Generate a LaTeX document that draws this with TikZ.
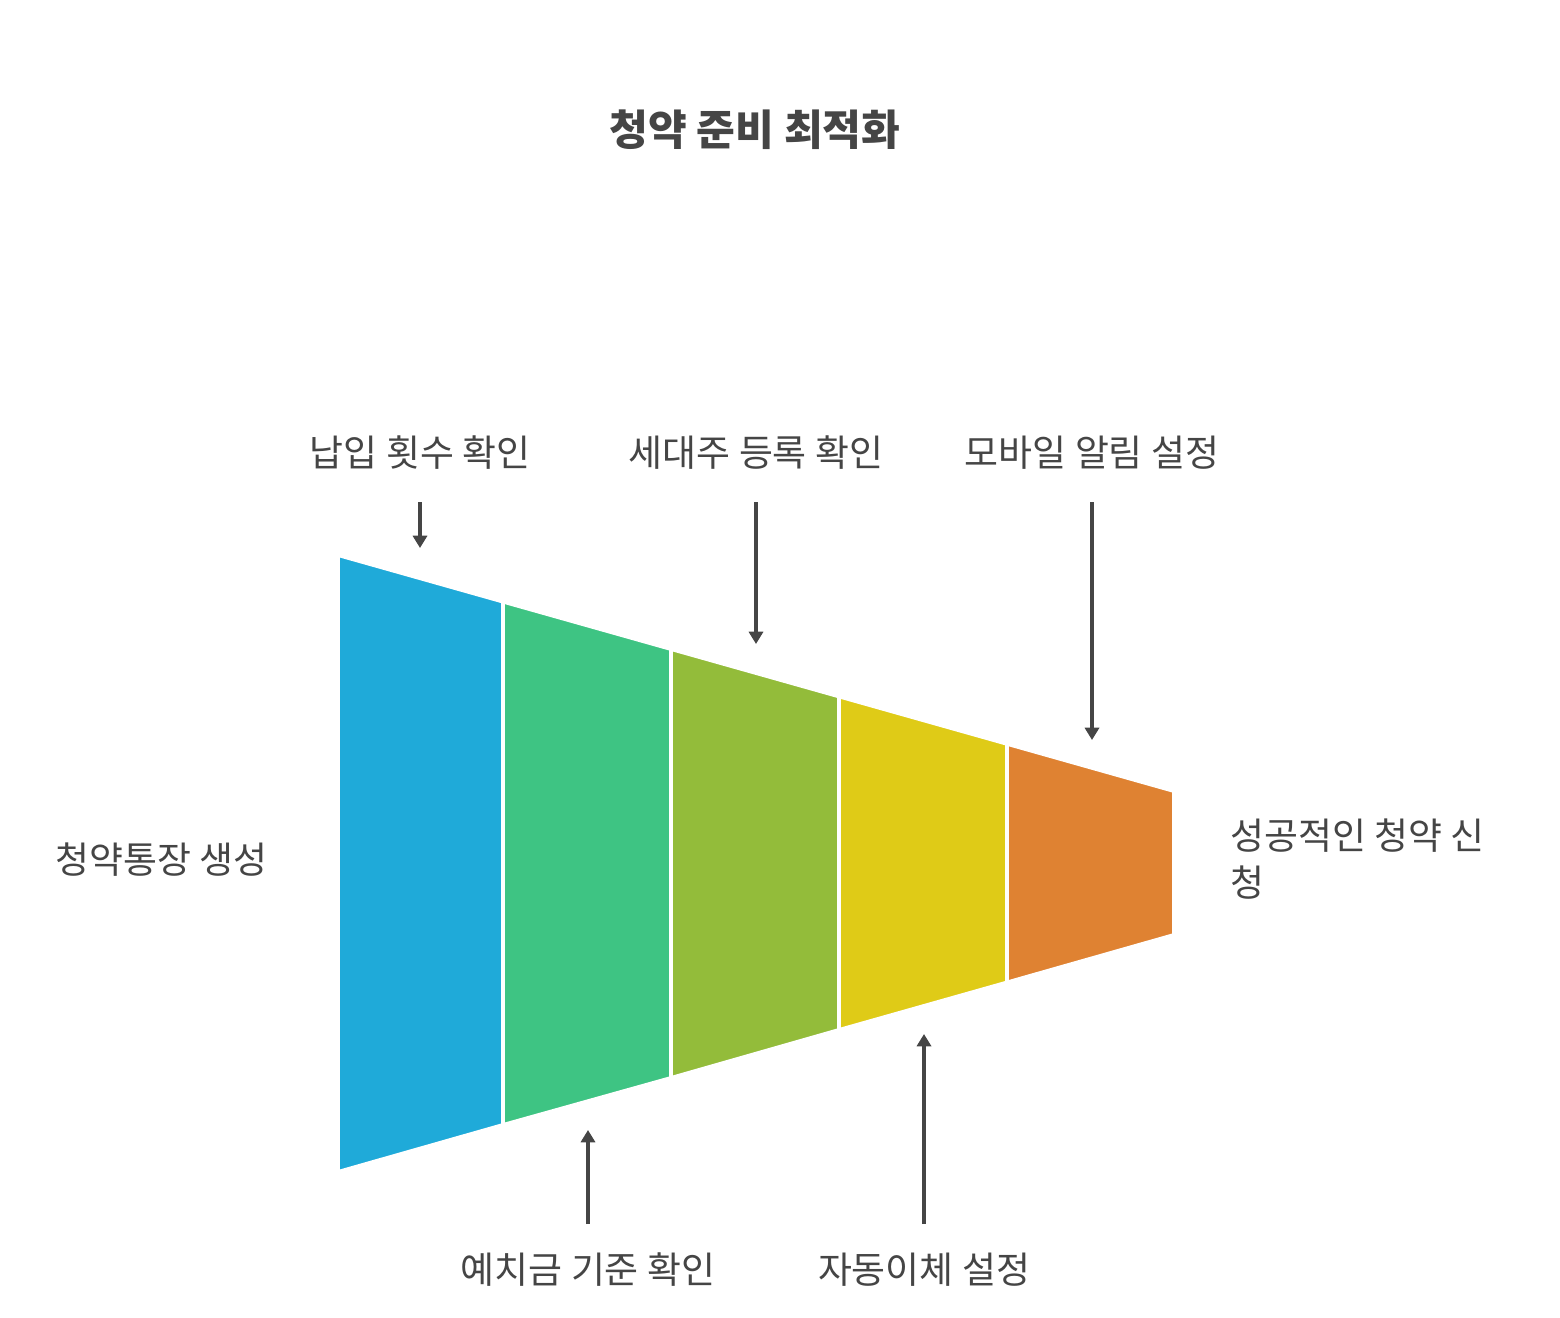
\documentclass[tikz,border=0pt]{standalone}
\usepackage{fontspec}
\setmainfont{Noto Sans CJK KR}
\usetikzlibrary{arrows.meta}
\definecolor{cA}{HTML}{1FAAD9}
\definecolor{cB}{HTML}{3EC483}
\definecolor{cC}{HTML}{93BC3A}
\definecolor{cD}{HTML}{DFCB17}
\definecolor{cE}{HTML}{DF8232}
\definecolor{ink}{HTML}{454545}
\tikzset{
 seg/.style={draw=white,line width=2.2pt,line join=miter},
 lbl/.style={text=ink,font=\fontsize{21}{27}\selectfont,inner sep=0pt},
 arr/.style={draw=ink,line width=1.8pt,-{Triangle[length=7pt,width=8pt]}}
}
\begin{document}
\begin{tikzpicture}[x=0.02cm,y=-0.02cm]
\useasboundingbox (0,0) rectangle (1560,1318);
\fill[white] (0,0) rectangle (1560,1318);
\fill[seg,fill=cA] (338,555) -- (503,601.6) -- (503,1125) -- (338,1172) -- cycle;
\fill[seg,fill=cB] (503,601.6) -- (671,649) -- (671,1078) -- (503,1125) -- cycle;
\fill[seg,fill=cC] (671,649) -- (839,696.4) -- (839,1030) -- (671,1078) -- cycle;
\fill[seg,fill=cD] (839,696.4) -- (1007,743.8) -- (1007,982.5) -- (839,1030) -- cycle;
\fill[seg,fill=cE] (1007,743.8) -- (1174,791) -- (1174,935) -- (1007,982.5) -- cycle;
\draw[white,line width=2.2pt] (503,601.6)--(503,1125) (671,649)--(671,1078) (839,696.4)--(839,1030) (1007,743.8)--(1007,982.5);
\node[lbl,font=\fontsize{24}{30}\selectfont\bfseries] (title) at (755,130) {청약 준비 최적화};
\node[lbl] (t1) at (420,453) {납입 횟수 확인};
\node[lbl] (t2) at (756,453) {세대주 등록 확인};
\node[lbl] (t3) at (1092,453) {모바일 알림 설정};
\node[lbl] (b1) at (588,1270) {예치금 기준 확인};
\node[lbl] (b2) at (924,1270) {자동이체 설정};
\node[lbl,anchor=west] (l) at (55,860) {청약통장 생성};
\node[lbl,anchor=north west,align=left] (r) at (1230,818) {성공적인 청약 신\\청};
\coordinate (a1s) at (420,502); \coordinate (a1e) at (420,548);
\coordinate (a2s) at (756,502); \coordinate (a2e) at (756,644);
\coordinate (a3s) at (1092,502); \coordinate (a3e) at (1092,740);
\coordinate (a4s) at (588,1224); \coordinate (a4e) at (588,1130);
\coordinate (a5s) at (924,1224); \coordinate (a5e) at (924,1034);
\draw[arr] (a1s) -- (a1e);
\draw[arr] (a2s) -- (a2e);
\draw[arr] (a3s) -- (a3e);
\draw[arr] (a4s) -- (a4e);
\draw[arr] (a5s) -- (a5e);
\end{tikzpicture}
\end{document}
